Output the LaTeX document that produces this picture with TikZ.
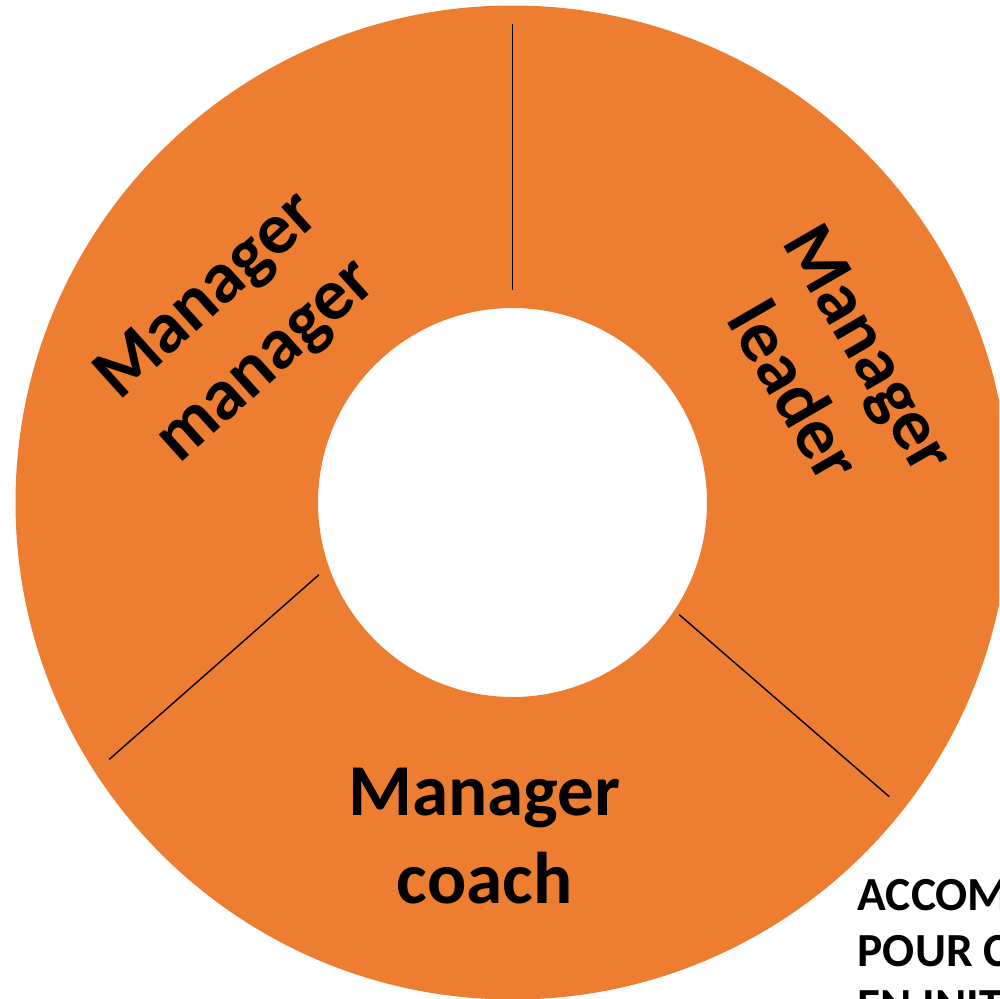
\documentclass[tikz,border=0pt]{standalone}
\usepackage{fontspec}
\setmainfont{Carlito}
\definecolor{ringorange}{HTML}{ED7D31}
\begin{document}
\begin{tikzpicture}[x=0.01cm, y=-0.01cm]
    % Define styles
    \tikzstyle{segtext}=[font=\bfseries\fontsize{20.8}{24.8}\selectfont, align=center, inner sep=0pt, text=black]
    \tikzstyle{divider}=[draw=black, line width=0.4pt]
    \tikzstyle{cornertext}=[font=\bfseries\fontsize{13.5}{15.7}\selectfont, align=left, inner sep=0pt, anchor=north west]

    \useasboundingbox (0,0) rectangle (999,999);
    \clip (0,0) rectangle (999,999);

    % Ring
    \coordinate (centre) at (512.5,502.5);
    \fill[ringorange, even odd rule] (centre) circle (497) (centre) circle (194.5);

    % Dividers
    \coordinate (topin) at (512.5,290);
    \coordinate (topout) at (512.5,24);
    \coordinate (leftin) at (319,574.7);
    \coordinate (leftout) at (109.3,759.3);
    \coordinate (rightin) at (679.3,614.7);
    \coordinate (rightout) at (889.3,796.7);
    \draw[divider] (topout) -- (topin);
    \draw[divider] (leftin) -- (leftout);
    \draw[divider] (rightin) -- (rightout);

    % Segment labels
    \node[segtext, rotate=42] (mgrmgr) at (238,330) {Manager\\manager};
    \node[segtext, rotate=-60] (mgrlead) at (832,370) {Manager\\leader};
    \node[segtext] (mgrcoach) at (484.5,836) {Manager\\coach};

    % Corner text
    \node[cornertext] (corner) at (857,879) {ACCOM\\POUR C\\EN INIT};
\end{tikzpicture}
\end{document}
